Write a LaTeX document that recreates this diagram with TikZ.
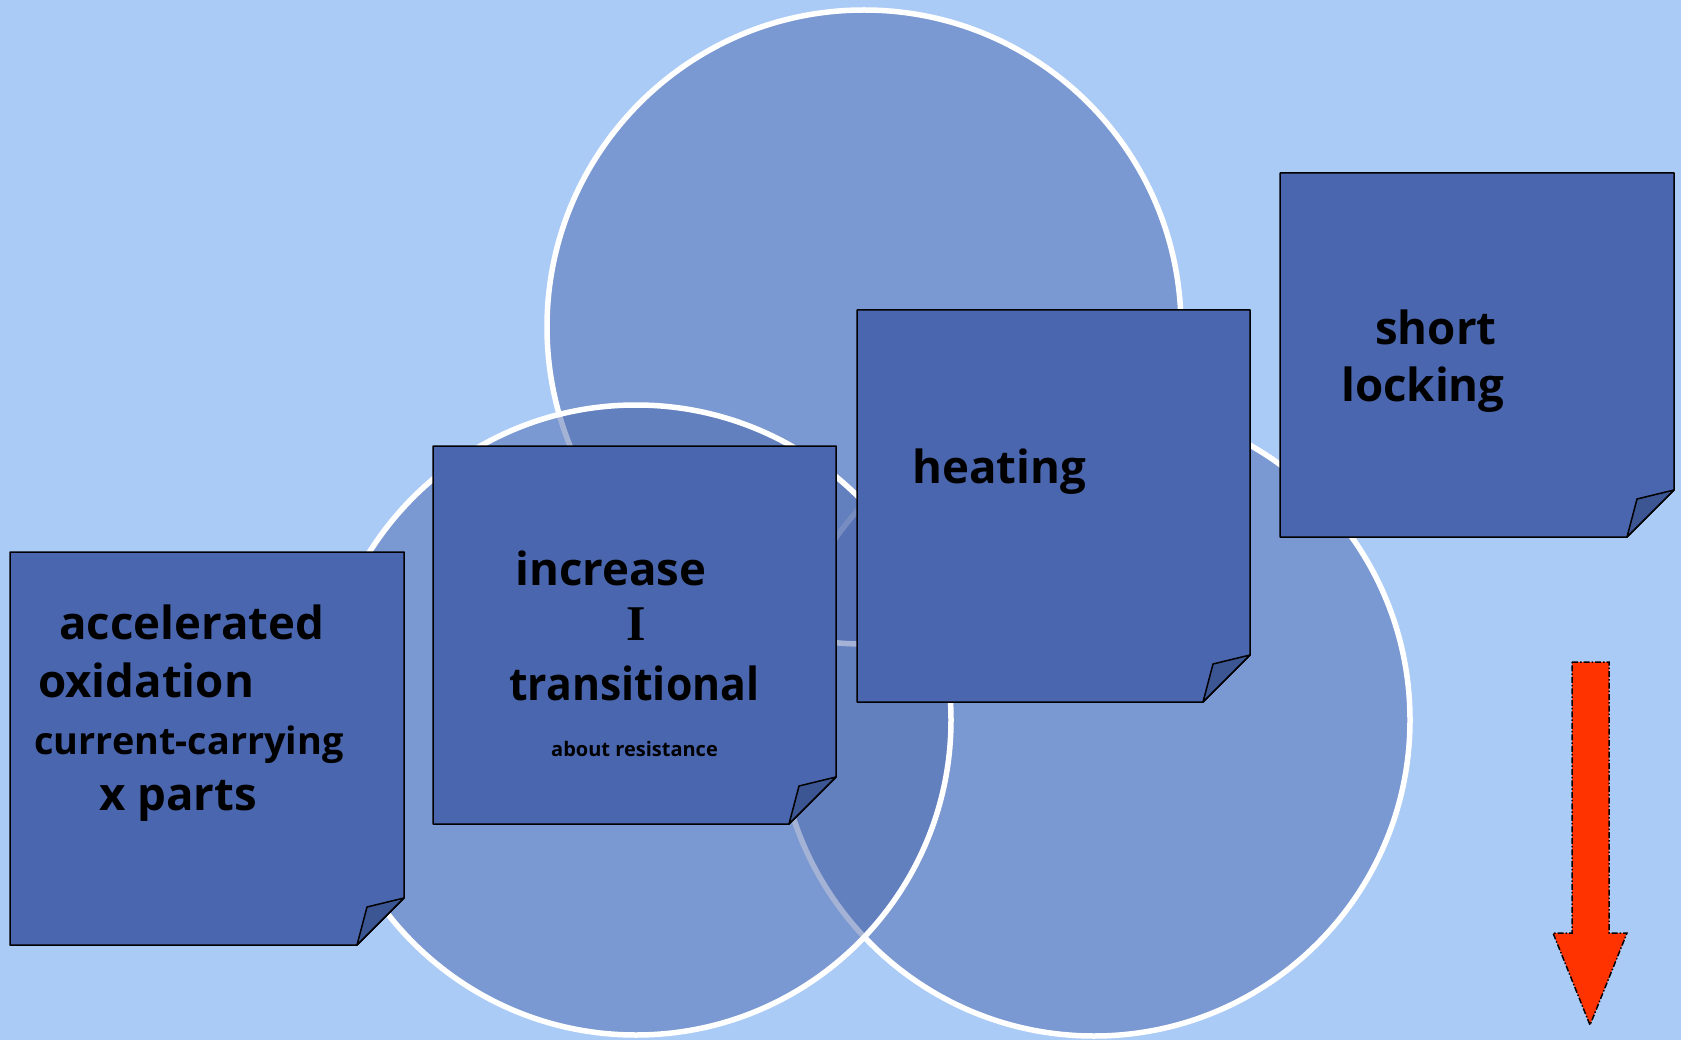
\documentclass[tikz,border=0pt]{standalone}
\usepackage{fontspec}
\setmainfont{Open Sans}
\newfontfamily\serifI{Liberation Serif}
\definecolor{bgc}{RGB}{171,203,247}
\definecolor{circc}{RGB}{75,103,173}
\definecolor{notec}{RGB}{74,102,174}
\definecolor{foldc}{RGB}{60,86,148}
\definecolor{arrowc}{RGB}{255,51,0}
\tikzset{
  circ/.style={fill=circc,fill opacity=0.5,draw=white,line width=5.5pt},
  notebody/.style={fill=notec,draw=black,line width=1.5pt,line join=round},
  notefold/.style={fill=foldc,draw=black,line width=1.5pt,line join=round},
  lbl/.style={anchor=base west,inner sep=0pt,text=black},
  big/.style={font=\bfseries\fontsize{45.6}{50}\selectfont},
  redarrow/.style={fill=arrowc,draw=black,line width=1.5pt,dash pattern=on 6pt off 2pt on 1.5pt off 2pt}
}
\newcommand\stickynote[4]{%
  \draw[notebody] (#1,#2) -- (#3,#2) -- (#3,#4-47) -- (#3-47,#4) -- (#1,#4) -- cycle;
  \draw[notefold] (#3,#4-47) -- (#3-37,#4-38) -- (#3-47,#4) -- cycle;
}
\begin{document}
\begin{tikzpicture}[x=1pt,y=-1pt]
\fill[bgc] (0,0) rectangle (1681,1040);
\useasboundingbox (0,0) rectangle (1681,1040);
% circles
\draw[circ] (1094,720) circle[radius=316];
\draw[circ] (864,327) circle[radius=317];
\draw[circ] (636,720) circle[radius=315];
% notes
\stickynote{10}{552}{404}{945}
\stickynote{433}{446}{836}{824}
\stickynote{857}{310}{1250}{702}
\stickynote{1280}{173}{1674}{537}
% texts
\node[lbl,big] (t1) at (59,639) {accelerated};
\node[lbl,big] (t2) at (38,697) {oxidation};
\node[lbl,font=\bfseries\fontsize{37.8}{42}\selectfont] (t3) at (34,754) {current-carrying};
\node[lbl,big] (t4) at (99,810) {x parts};
\node[lbl,big] (t5) at (515,585) {increase};
\node[anchor=base,inner sep=0pt,font=\serifI\bfseries\fontsize{50}{56}\selectfont] (t6) at (636,640) {I};
\node[lbl,big] (t7) at (509,700) {\scalebox{0.937}[1]{transitional}};
\node[lbl,font=\bfseries\fontsize{20}{24}\selectfont] (t8) at (551,756) {about resistance};
\node[lbl,big] (t9) at (912,483) {heating};
\node[lbl,big] (t10) at (1375,345) {short};
\node[lbl,big] (t11) at (1341,401) {locking};
% arrow
\draw[redarrow] (1572,662) -- (1609,662) -- (1609,933) -- (1627,933) -- (1590,1025) -- (1553,933) -- (1572,933) -- cycle;
\end{tikzpicture}
\end{document}
